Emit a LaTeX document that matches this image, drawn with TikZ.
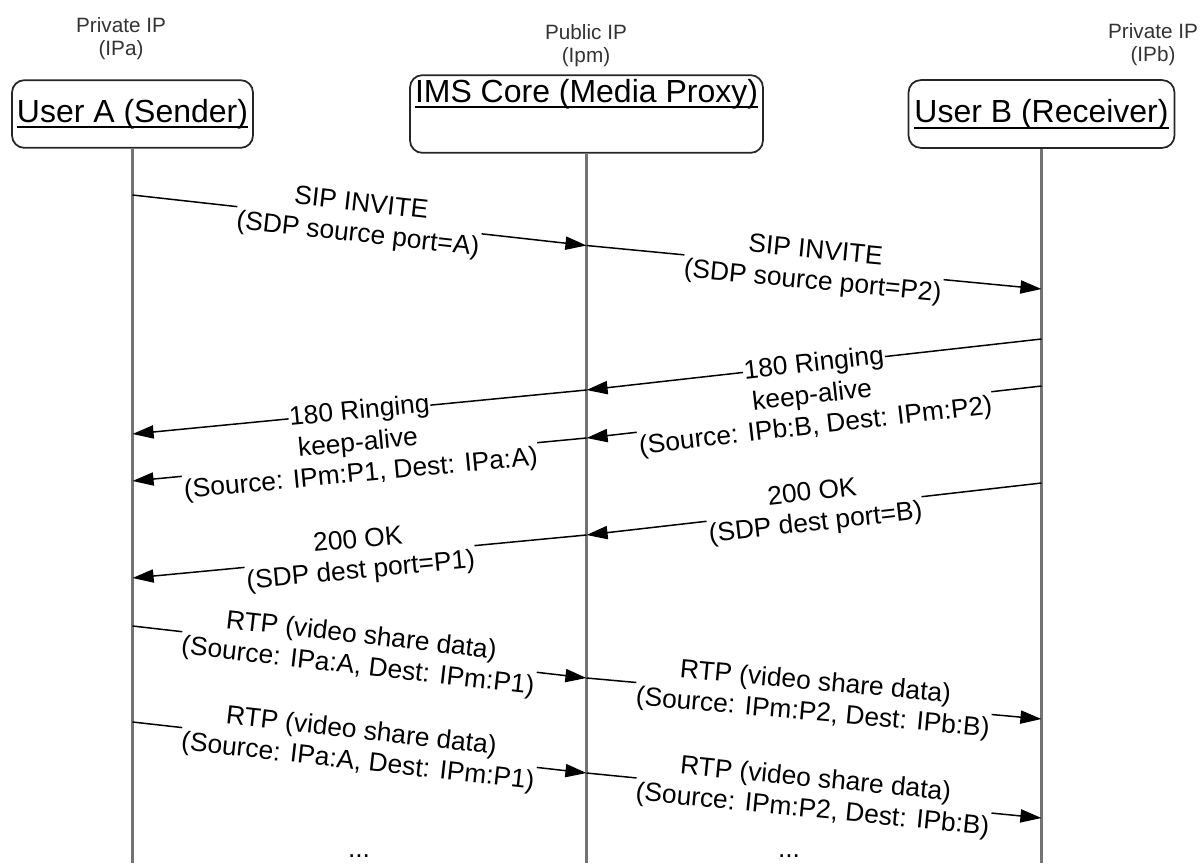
\documentclass[tikz,border=0pt]{standalone}
\usepackage{fontspec}
\setmainfont{Liberation Sans}
\usepackage{tikz}
\usetikzlibrary{positioning,arrows.meta}

\newsavebox{\hdbox}
\newcommand{\hdline}[1]{\sbox{\hdbox}{#1}\rlap{\rule[-3.3pt]{\wd\hdbox}{1.1pt}}\usebox{\hdbox}}

\begin{document}
\begin{tikzpicture}[
  x=0.02cm, y=-0.02cm,
  party/.style={rectangle, rounded corners=7pt, draw=black!85, line width=1pt, inner sep=0pt, font=\fontsize{18.2}{21}\selectfont},
  addr/.style={align=center, text=black!80, inner sep=0pt, font=\fontsize{11.8}{13.5}\selectfont},
  lifeline/.style={draw=black!55, line width=1.3pt},
  msg/.style={-{Triangle[length=12pt,width=7.5pt]}, line width=0.85pt},
  lbl/.style={midway, sloped, fill=white, inner sep=0.5pt, align=center, font=\fontsize{15}{17.5}\selectfont},
  more/.style={anchor=base, inner sep=0pt, font=\fontsize{15}{17.5}\selectfont}
]
\useasboundingbox (0,0) rectangle (1201,863);

% Addresses
\node[addr] (ipa) at (121,38.5) {Private IP\\(IPa)};
\node[addr] (ipm) at (586,45.5) {Public IP\\(Ipm)};
\node[addr] (ipb) at (1153,44.5) {Private IP\\(IPb)};

% Parties
\node[party, minimum width=4.82cm, text height=23.8pt, text depth=14.7pt] (userA) at (132.5,114) {\hdline{User A (Sender)}};
\node[party, minimum width=7.06cm, text height=15.3pt, text depth=28.9pt] (ims) at (586.5,114) {\hdline{IMS Core (Media Proxy)}};
\node[party, minimum width=5.32cm, text height=24.4pt, text depth=14.2pt] (userB) at (1041.5,114) {\hdline{User B (Receiver)}};

% Lifelines
\coordinate (endA) at (132.5,863);
\coordinate (endP) at (586.5,863);
\coordinate (endB) at (1041.5,863);
\draw[lifeline] (userA.south) -- (endA);
\draw[lifeline] (ims.south) -- (endP);
\draw[lifeline] (userB.south) -- (endB);

% Points on the lifelines
\coordinate (a1) at (132.5,195);  \coordinate (p1) at (586.5,245.5);
\coordinate (b2) at (1041.5,289);
\coordinate (b3) at (1041.5,339); \coordinate (p3) at (586.5,390);
\coordinate (b4) at (1041.5,386); \coordinate (p4) at (586.5,438);
\coordinate (a5) at (132.5,434);  \coordinate (a6) at (132.5,481);
\coordinate (b7) at (1041.5,483); \coordinate (p7) at (586.5,535);
\coordinate (a8) at (132.5,578);
\coordinate (a9) at (132.5,626);  \coordinate (p9) at (586.5,678);
\coordinate (b10) at (1041.5,719);
\coordinate (a11) at (132.5,722); \coordinate (p11) at (586.5,773);
\coordinate (b12) at (1041.5,818);

% Invite
\draw[msg] (a1) -- node[lbl] {SIP INVITE\\(SDP source port=A)} (p1);
\draw[msg] (p1) -- node[lbl] {SIP INVITE\\(SDP source port=P2)} (b2);

% Ringing
\draw[msg] (b3) -- node[lbl] {180 Ringing} (p3);
\draw[msg] (b4) -- node[lbl] {keep-alive\\(Source: IPb:B, Dest: IPm:P2)} (p4);
\draw[msg] (p3) -- node[lbl] {180 Ringing} (a5);
\draw[msg] (p4) -- node[lbl] {keep-alive\\(Source: IPm:P1, Dest: IPa:A)} (a6);

% OK
\draw[msg] (b7) -- node[lbl] {200 OK\\(SDP dest port=B)} (p7);
\draw[msg] (p7) -- node[lbl] {200 OK\\(SDP dest port=P1)} (a8);

% Media
\draw[msg] (a9) -- node[lbl] {RTP (video share data)\\(Source: IPa:A, Dest: IPm:P1)} (p9);
\draw[msg] (p9) -- node[lbl] {RTP (video share data)\\(Source: IPm:P2, Dest: IPb:B)} (b10);
\draw[msg] (a11) -- node[lbl] {RTP (video share data)\\(Source: IPa:A, Dest: IPm:P1)} (p11);
\draw[msg] (p11) -- node[lbl] {RTP (video share data)\\(Source: IPm:P2, Dest: IPb:B)} (b12);

\node[more] (moreA) at (359,857) {...};
\node[more] (moreB) at (789,857) {...};

\end{tikzpicture}
\end{document}
